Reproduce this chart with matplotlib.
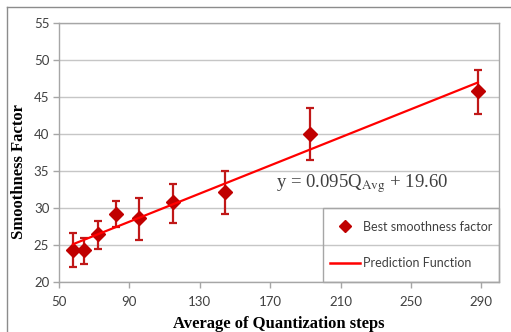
import matplotlib
matplotlib.use("Agg")
import matplotlib.pyplot as plt
from matplotlib.lines import Line2D
from matplotlib.patches import Rectangle

# Data
q_avg = [58.1, 64.2, 72.0, 82.2, 95.7, 115.0, 144.4, 192.4, 288.3]
smooth = [24.3, 24.3, 26.5, 29.2, 28.6, 30.8, 32.2, 40.0, 45.8]
err_upper = [26.6, 26.0, 28.2, 31.0, 31.3, 33.3, 35.0, 43.5, 48.7]
err_lower = [22.0, 22.5, 24.5, 27.5, 25.7, 28.0, 29.2, 36.5, 42.7]
pred_x = [58.0, 288.0]
pred_y = [25.11, 46.96]
x_ticks = [50, 90, 130, 170, 210, 250, 290]
y_ticks = [20, 25, 30, 35, 40, 45, 50, 55]

W, H = 511, 332
fig = plt.figure(figsize=(W/100, H/100), dpi=100)
ax = fig.add_axes([59/W, 1-282/H, (499-59)/W, (282-23)/H])

grid_c = "#c6c6c6"
spine_c = "#a6a6a6"
tick_font = "Lato"
mk_c = "#c00000"

ax.set_xlim(50, 300)
ax.set_ylim(20, 55)
ax.set_xticks(x_ticks)
ax.set_yticks(y_ticks)
ax.yaxis.grid(True, color=grid_c, lw=1)
ax.set_axisbelow(True)
for s in ax.spines.values():
    s.set_color(spine_c)
    s.set_linewidth(1)
ax.tick_params(axis="both", colors=spine_c, labelcolor="#404040", labelsize=9.5,
               length=4, width=1, direction="out")
ax.tick_params(axis="y", pad=3)
ax.tick_params(axis="x", pad=6)
for lab in ax.get_xticklabels() + ax.get_yticklabels():
    lab.set_fontfamily(tick_font)

yerr = [[s - l for s, l in zip(smooth, err_lower)],
        [u - s for s, u in zip(smooth, err_upper)]]
ax.errorbar(q_avg, smooth, yerr=yerr, fmt="D", color=mk_c, ecolor="#c01818",
            elinewidth=1.6, capsize=3, capthick=1.6, markersize=7.5, zorder=3)
ax.plot(pred_x, pred_y, color="#ff0000", lw=1.6, zorder=4)

ax.text(222, 33.3, r"y = 0.095Q$_{\mathrm{Avg}}$ + 19.60", fontsize=13.5,
        family="Liberation Serif", ha="center", va="center", color="#404040",
        math_fontfamily="stix")

# legend
ax.add_patch(Rectangle((0.6, 0.0), 0.4, 0.286, transform=ax.transAxes, fill=False,
                       edgecolor=spine_c, lw=1, zorder=5, clip_on=False))
handles = [Line2D([], [], ls="none", marker="D", color=mk_c, markersize=6),
           Line2D([], [], color="#ff0000", lw=1.8)]
labels = ["Best smoothness factor", "Prediction Function"]
leg = ax.legend(handles, labels, loc="center", bbox_to_anchor=(0.8, 0.143),
                frameon=False, labelspacing=1.95, borderpad=0.2,
                handlelength=2.4, handletextpad=0.2, prop={"family": tick_font, "size": 9})
for t in leg.get_texts():
    t.set_color("#404040")

ax.set_xlabel("Average of Quantization steps", family="Liberation Serif",
              fontweight="bold", fontsize=12, labelpad=6)
ax.set_ylabel("Smoothness Factor", family="Liberation Serif",
              fontweight="bold", fontsize=12)
ax.yaxis.set_label_coords(-0.073, 0.425)

# outer chart border
fig.add_artist(Line2D([7/W, 7/W], [0, 1-7/H], color="#8c8c8c", lw=1, transform=fig.transFigure))
fig.add_artist(Line2D([7/W, 1], [1-7/H, 1-7/H], color="#8c8c8c", lw=1, transform=fig.transFigure))

fig.savefig("out.png", dpi=100)
